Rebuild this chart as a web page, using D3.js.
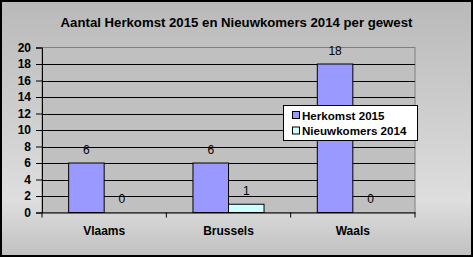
<!DOCTYPE html>
<html><head><meta charset="utf-8">
<script src="https://cdn.jsdelivr.net/npm/d3@7/dist/d3.min.js"></script>
<style>body{margin:0;padding:0;background:#fff}svg{display:block}text{font-family:"Liberation Sans",Arial,sans-serif}</style>
</head><body>
<svg id="chart" width="473" height="257"></svg>
<script>
const categories = ["Vlaams", "Brussels", "Waals"];
const seriesNames = ["Herkomst 2015", "Nieuwkomers 2014"];
const herkomst2015 = [6, 6, 18];
const nieuwkomers2014 = [0, 1, 0];
const yTicks = [0, 2, 4, 6, 8, 10, 12, 14, 16, 18, 20];
const title = "Aantal Herkomst 2015 en Nieuwkomers 2014 per gewest";
const colors = ["#9999FF", "#CCFFFF"];

const svg = d3.select("#chart");
const W = 473, H = 257;
const defs = svg.append("defs");
const grad = defs.append("linearGradient").attr("id", "bg").attr("x1", 0).attr("y1", 0).attr("x2", 0).attr("y2", 1);
grad.append("stop").attr("offset", "0%").attr("stop-color", "#b9b9b9");
grad.append("stop").attr("offset", "78%").attr("stop-color", "#dedede");
grad.append("stop").attr("offset", "100%").attr("stop-color", "#c0c0c0");
svg.append("rect").attr("x", 0).attr("y", 0).attr("width", W).attr("height", H).attr("fill", "url(#bg)");
svg.append("rect").attr("x", 1).attr("y", 1).attr("width", W - 2).attr("height", H - 2)
  .attr("fill", "none").attr("stroke", "#000").attr("stroke-width", 2);

const L = 42, R = 415, T = 47.5, B = 212.5;
const x0 = d3.scaleBand().domain(categories).range([L, R]).paddingInner(0).paddingOuter(0);
const y = d3.scaleLinear().domain([0, 20]).range([B, T]);
const bw = x0.bandwidth() / 3.5;

svg.append("rect").attr("x", L).attr("y", T).attr("width", R - L).attr("height", B - T)
  .attr("fill", "#c0c0c0").attr("stroke", "#808080").attr("stroke-width", 1);

svg.append("g").selectAll("line").data(yTicks.filter(d => d > 0 && d < 20)).join("line")
  .attr("x1", L).attr("x2", R).attr("y1", d => Math.round(y(d)) + 0.5).attr("y2", d => Math.round(y(d)) + 0.5)
  .attr("stroke", "#000").attr("stroke-width", 1);

const series = [herkomst2015, nieuwkomers2014];
series.forEach((vals, si) => {
  svg.append("g").selectAll("rect").data(vals).join("rect")
    .attr("x", (d, i) => x0(categories[i]) + bw * 0.75 + si * bw)
    .attr("y", d => y(d))
    .attr("width", bw)
    .attr("height", d => B - y(d))
    .attr("fill", colors[si]).attr("stroke", "#000").attr("stroke-width", 1)
    .style("display", d => d > 0 ? null : "none");
  svg.append("g").selectAll("text").data(vals).join("text")
    .attr("x", (d, i) => x0(categories[i]) + bw * 0.75 + si * bw + bw / 2)
    .attr("y", d => y(d) - 13.5)
    .attr("text-anchor", "middle").attr("dominant-baseline", "central")
    .attr("font-size", "12px").attr("fill", "#000")
    .text(d => d);
});

// axes
const yAxis = d3.axisLeft(y).tickValues(yTicks).tickSize(6).tickPadding(5);
const gy = svg.append("g").attr("transform", `translate(${L},0)`).call(yAxis);
gy.select(".domain").attr("stroke", "#000");
gy.selectAll("text").attr("font-size", "12px").attr("font-weight", "bold").attr("font-family", '"Liberation Sans",Arial,sans-serif');

const xAxis = d3.axisBottom(x0).tickSize(0).tickPadding(14);
const gx = svg.append("g").attr("transform", `translate(0,${B})`).call(xAxis);
gx.select(".domain").attr("stroke", "#000");
gx.selectAll("text").attr("font-size", "12px").attr("font-weight", "bold").attr("font-family", '"Liberation Sans",Arial,sans-serif');
gx.append("g").selectAll("line").data([L, ...categories.map(c => x0(c) + x0.bandwidth())]).join("line")
  .attr("x1", d => d).attr("x2", d => d).attr("y1", 0).attr("y2", 5).attr("stroke", "#000");

svg.append("text").attr("x", 236.5).attr("y", 22).attr("text-anchor", "middle").attr("dominant-baseline", "central")
  .attr("font-size", "13.2px").attr("font-weight", "bold").text(title);

// legend
const lg = svg.append("g").attr("transform", "translate(283,105)");
lg.append("rect").attr("x", 0.5).attr("y", 0.5).attr("width", 134).attr("height", 35).attr("fill", "#fff").attr("stroke", "#000");
seriesNames.forEach((n, i) => {
  lg.append("rect").attr("x", 9.5).attr("y", 6.5 + i * 15.5).attr("width", 7).attr("height", 7)
    .attr("fill", colors[i]).attr("stroke", "#000");
  lg.append("text").attr("x", 19).attr("y", 10 + i * 15.5).attr("dominant-baseline", "central")
    .attr("font-size", "11.6px").attr("font-weight", "bold").text(n);
});
</script>
</body></html>
